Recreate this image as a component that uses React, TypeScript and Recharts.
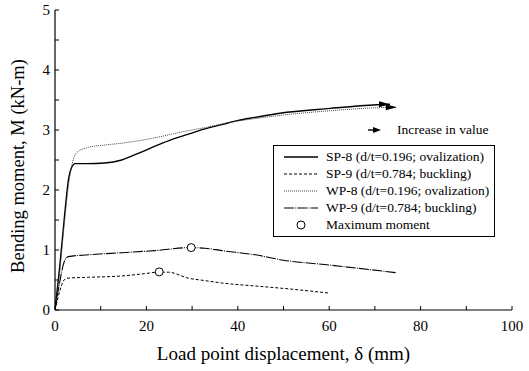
import React from 'react';
import { ComposedChart, Line, Scatter, XAxis, YAxis, Legend } from 'recharts';

// Load point displacement δ (mm), bending moment M (kN-m)
const sp8: number[][] = [
  [0, 0], [1, 0.7], [2, 1.5], [3, 2.2], [3.6, 2.37], [4.4, 2.44], [7, 2.44], [10.9, 2.45],
  [14.6, 2.5], [18.2, 2.61], [21.9, 2.73], [25.5, 2.84], [29.2, 2.93], [32.8, 3.02],
  [36.5, 3.09], [40.1, 3.16], [43.8, 3.21], [49.2, 3.28], [60.2, 3.36], [70.4, 3.42], [73.3, 3.43],
];
const sp9: number[][] = [
  [0, 0], [1, 0.3], [1.8, 0.48], [2.6, 0.53], [7.3, 0.545], [14.6, 0.567], [19, 0.6],
  [22.8, 0.63], [24.8, 0.63], [29.2, 0.53], [32.8, 0.49], [36.5, 0.45], [43.8, 0.4],
  [50, 0.36], [60.2, 0.28],
];
const wp8: number[][] = [
  [0, 0], [1, 0.6], [2, 1.4], [3, 2.1], [3.8, 2.45], [4.7, 2.62], [7.3, 2.71], [10.9, 2.75],
  [14.6, 2.78], [18.2, 2.82], [21.9, 2.87], [25.5, 2.93], [29.2, 2.99], [32.8, 3.04],
  [36.5, 3.1], [40.1, 3.15], [43.8, 3.19], [50, 3.25], [60, 3.32], [70, 3.37], [74.8, 3.38],
];
const wp9: number[][] = [
  [0, 0], [1, 0.45], [2, 0.8], [2.9, 0.89], [7.3, 0.92], [14.6, 0.955], [21.9, 0.99],
  [29.8, 1.04], [32.8, 1.03], [36.5, 0.99], [43.8, 0.92], [50, 0.83], [60, 0.75], [74.8, 0.62],
];
const maxMoments: number[][] = [[22.8, 0.635], [29.8, 1.04]];

const seriesNames = [
  'SP-8 (d/t=0.196; ovalization)',
  'SP-9 (d/t=0.784; buckling)',
  'WP-8 (d/t=0.196; ovalization)',
  'WP-9 (d/t=0.784; buckling)',
];
const markerName = 'Maximum moment';
const arrowNote = 'Increase in value';

const xTicks = [0, 10, 20, 30, 40, 50, 60, 70, 80, 90, 100];
const xLabels = [0, 20, 40, 60, 80, 100];
const yTicks = [0, 0.5, 1, 1.5, 2, 2.5, 3, 3.5, 4, 4.5, 5];
const yLabels = [0, 1, 2, 3, 4, 5];

const xTitle = 'Load point displacement, δ (mm)';
const yTitle = 'Bending moment, M (kN-m)';

const toRows = (a: number[][]) => a.map(([d, m]) => ({ d, m }));

const FONT = '"Liberation Serif", "Times New Roman", serif';

const styles = [
  { stroke: '#000', width: 1.4, dash: undefined as string | undefined },
  { stroke: '#000', width: 1, dash: '3 2' },
  { stroke: '#444', width: 1, dash: '1 1' },
  { stroke: '#000', width: 1.1, dash: '10 1.2 1 1.2' },
];

const BottomTick = (p: any) => {
  const { x, y, payload } = p;
  const v = payload.value;
  return (
    <g>
      <line x1={x} x2={x} y1={y} y2={y - 4} stroke="#000" />
      {xLabels.includes(v) && (
        <text x={x} y={y + 21} textAnchor="middle" fontSize={15} fontFamily={FONT} fill="#000">{v}</text>
      )}
    </g>
  );
};
const TopTick = (p: any) => {
  const { x, y } = p;
  return <line x1={x} x2={x} y1={y} y2={y + 3} stroke="#999" />;
};
const LeftTick = (p: any) => {
  const { x, y, payload } = p;
  const v = payload.value;
  return (
    <g>
      <line x1={x} x2={x + 4} y1={y} y2={y} stroke="#000" />
      {yLabels.includes(v) && (
        <text x={x - 5} y={y + 5} textAnchor="end" fontSize={15} fontFamily={FONT} fill="#000">{v}</text>
      )}
    </g>
  );
};
const RightTick = (p: any) => {
  const { x, y } = p;
  return <line x1={x} x2={x - 4} y1={y} y2={y} stroke="#000" />;
};

const makeArrowDot = (lastIndex: number) => (p: any) => {
  const { cx, cy, index } = p;
  if (index !== lastIndex) return <g key={`d${index}`} />;
  return (
    <polygon
      key={`d${index}`}
      points={`${cx},${cy} ${cx - 11},${cy - 3} ${cx - 11},${cy + 3}`}
      fill="#000"
    />
  );
};

const LegendBox = () => (
  <div style={{ position: 'relative', width: 222, height: 92, fontFamily: FONT, fontSize: 13.5, color: '#000' }}>
    <div style={{ position: 'absolute', left: 95, top: -23, width: 130, height: 16, whiteSpace: 'nowrap' }}>
      <svg width={14} height={10} style={{ position: 'absolute', left: 0, top: 3 }}>
        <line x1={0} x2={8} y1={5} y2={5} stroke="#000" strokeWidth={1.4} />
        <polygon points="13,5 5,2 5,8" fill="#000" />
      </svg>
      <span style={{ position: 'absolute', left: 29, top: 0, lineHeight: '16px' }}>{arrowNote}</span>
    </div>
    <div style={{ position: 'absolute', inset: 0, border: '1px solid #000', borderLeft: '1.5px solid #000', boxSizing: 'border-box', background: '#fff' }} />
    {seriesNames.map((n, i) => (
      <div key={n} style={{ position: 'absolute', left: 0, top: 4 + i * 16.9, height: 16, width: 222, whiteSpace: 'nowrap' }}>
        <svg width={36} height={16} style={{ position: 'absolute', left: 11, top: 0 }}>
          <line x1={0} x2={34} y1={8} y2={8} stroke={styles[i].stroke} strokeWidth={styles[i].width} strokeDasharray={styles[i].dash} />
        </svg>
        <span style={{ position: 'absolute', left: 53, top: 0, lineHeight: '16px' }}>{n}</span>
      </div>
    ))}
    <div style={{ position: 'absolute', left: 0, top: 4 + 4 * 16.9, height: 16, width: 222, whiteSpace: 'nowrap' }}>
      <svg width={36} height={16} style={{ position: 'absolute', left: 11, top: 0 }}>
        <circle cx={17} cy={8} r={4} fill="#fff" stroke="#000" />
      </svg>
      <span style={{ position: 'absolute', left: 53, top: 0, lineHeight: '16px' }}>{markerName}</span>
    </div>
  </div>
);

export default function App() {
  const series = [sp8, sp9, wp8, wp9];
  return (
    <div style={{ position: 'absolute', left: 0, top: 0, width: 529, height: 371, background: '#fff', fontFamily: FONT }}>
      <ComposedChart width={529} height={371} margin={{ top: 10, right: 17, bottom: 31, left: 15 }}>
        <XAxis
          dataKey="d" type="number" domain={[0, 100]} ticks={xTicks} interval={0}
          allowDataOverflow height={30} tickSize={0} tickMargin={0} tick={BottomTick}
          axisLine={{ stroke: '#000', strokeWidth: 1.2 }}
          label={{
            content: (p: any) => {
              const vb = p.viewBox;
              return (
                <text x={vb.x + vb.width / 2} y={vb.y + 50} textAnchor="middle" fontSize={19} fontFamily={FONT} fill="#000">{xTitle}</text>
              );
            },
          }}
        />
        <XAxis
          xAxisId="top" orientation="top" dataKey="d" type="number" domain={[0, 100]} ticks={xTicks}
          interval={0} allowDataOverflow height={0} tickSize={0} tickMargin={0} tick={TopTick}
          axisLine={{ stroke: '#000' }}
        />
        <YAxis
          type="number" domain={[0, 5]} ticks={yTicks} interval={0} allowDataOverflow width={40}
          tickSize={0} tickMargin={0} tick={LeftTick} axisLine={{ stroke: '#000', strokeWidth: 1.2 }}
          label={{
            content: (p: any) => {
              const vb = p.viewBox;
              const cx = vb.x + 3;
              const cy = vb.y + vb.height / 2 + 6;
              return (
                <text x={cx} y={cy} transform={`rotate(-90 ${cx} ${cy})`} textAnchor="middle" dominantBaseline="central" fontSize={18.5} fontFamily={FONT} fill="#000">{yTitle}</text>
              );
            },
          }}
        />
        <YAxis
          yAxisId="right" orientation="right" type="number" domain={[0, 5]} ticks={yTicks} interval={0}
          allowDataOverflow width={0} tickSize={0} tickMargin={0} tick={RightTick} axisLine={{ stroke: '#777' }}
        />
        {series.map((s, i) => (
          <Line
            key={seriesNames[i]}
            data={toRows(s)}
            dataKey="m"
            name={seriesNames[i]}
            type="monotone"
            stroke={styles[i].stroke}
            strokeWidth={styles[i].width}
            strokeDasharray={styles[i].dash}
            dot={i === 0 || i === 2 ? makeArrowDot(s.length - 1) : false}
            activeDot={false}
            isAnimationActive={false}
          />
        ))}
        <Scatter
          data={toRows(maxMoments)}
          dataKey="m"
          name={markerName}
          isAnimationActive={false}
          shape={(p: any) => <circle cx={p.cx} cy={p.cy} r={4} fill="#fff" stroke="#000" strokeWidth={1} />}
        />
        <Legend
          layout="vertical" align="center" verticalAlign="middle"
          wrapperStyle={{ left: 273, top: 145, width: 222, height: 92 }}
          content={() => <LegendBox />}
        />
      </ComposedChart>
    </div>
  );
}
